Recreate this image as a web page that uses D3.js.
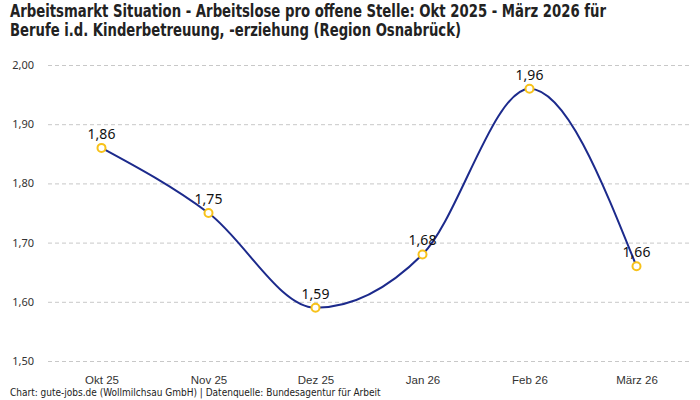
<!DOCTYPE html>
<html>
<head>
<meta charset="utf-8">
<script src="https://cdn.jsdelivr.net/npm/d3@7"></script>
<style>
  body { margin: 0; background: #fff; }
  svg { font-family: "DejaVu Sans Condensed", "Roboto", sans-serif; }
</style>
</head>
<body>
<svg id="chart" width="700" height="400"></svg>
<script>
const months = ["Okt 25", "Nov 25", "Dez 25", "Jan 26", "Feb 26", "März 26"];
const values = [1.86, 1.75, 1.59, 1.68, 1.96, 1.66];
const yTicks = [1.5, 1.6, 1.7, 1.8, 1.9, 2.0];

const fmt = v => d3.format(".2f")(v).replace(".", ",");

const svg = d3.select("#chart");

const x = d3.scalePoint().domain(months).range([48, 690]).padding(0.5);
const y = d3.scaleLinear().domain([1.5, 2.0]).range([361, 65]);

// title (squeezed to the reference width)
svg.append("text").attr("x", 10).attr("y", 17)
  .attr("textLength", 596).attr("lengthAdjust", "spacingAndGlyphs")
  .style("font-size", "17px").style("font-weight", "bold").style("fill", "#222")
  .text("Arbeitsmarkt Situation - Arbeitslose pro offene Stelle: Okt 2025 - März 2026 für");
svg.append("text").attr("x", 10).attr("y", 36)
  .attr("textLength", 451).attr("lengthAdjust", "spacingAndGlyphs")
  .style("font-size", "17px").style("font-weight", "bold").style("fill", "#222")
  .text("Berufe i.d. Kinderbetreuung, -erziehung (Region Osnabrück)");

// grid + y labels
const yAxis = svg.append("g").attr("transform", "translate(48,0)")
  .call(d3.axisLeft(y).tickValues(yTicks).tickSize(-642).tickFormat(fmt).tickPadding(14));
yAxis.select(".domain").remove();
yAxis.selectAll("line").attr("stroke", "#c8c8c8").attr("stroke-dasharray", "4,3");
yAxis.selectAll("text").style("font-size", "11px").style("fill", "#333")
  .style("font-family", "'Noto Sans', sans-serif");

// x labels
const xAxis = svg.append("g").attr("transform", "translate(0,361)")
  .call(d3.axisBottom(x).tickSize(0).tickPadding(15));
xAxis.select(".domain").remove();
xAxis.selectAll("text").style("font-size", "11.5px").style("fill", "#333");

// line
const line = d3.line()
  .x((d, i) => x(months[i]))
  .y(d => y(d))
  .curve(d3.curveMonotoneX);

svg.append("path").datum(values)
  .attr("d", line)
  .attr("fill", "none")
  .attr("stroke", "#1c2a8c")
  .attr("stroke-width", 2);

svg.selectAll("circle.pt").data(values).join("circle")
  .attr("class", "pt")
  .attr("cx", (d, i) => x(months[i]))
  .attr("cy", d => y(d))
  .attr("r", 4)
  .attr("fill", "#fff")
  .attr("stroke", "#f7c21a")
  .attr("stroke-width", 2);

svg.selectAll("text.lbl").data(values).join("text")
  .attr("class", "lbl")
  .attr("x", (d, i) => x(months[i]))
  .attr("y", d => y(d) - 9)
  .attr("text-anchor", "middle")
  .style("font-size", "14px")
  .style("font-family", "'Noto Sans', sans-serif")
  .style("fill", "#111")
  .text(fmt);

// footer
svg.append("text").attr("x", 10).attr("y", 396)
  .style("font-size", "10px").style("fill", "#222")
  .text("Chart: gute-jobs.de (Wollmilchsau GmbH) | Datenquelle: Bundesagentur für Arbeit");
</script>
</body>
</html>
